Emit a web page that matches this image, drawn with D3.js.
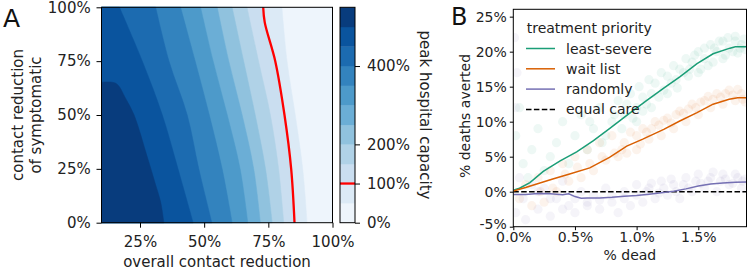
<!DOCTYPE html>
<html><head><meta charset="utf-8">
<script src="https://cdn.jsdelivr.net/npm/d3@7"></script>
<style>body{margin:0;background:#fff;} svg{display:block;font-family:"DejaVu Sans",sans-serif;}</style>
</head><body><svg id="c" width="750" height="270"></svg>
<script>
// ---------- Panel A data: contour lines [overall reduction %, symptomatic reduction %] ----------
const levels = [0,50,100,150,200,250,300,350,400,450,500,550];
const contour50  = [[80.3,100],[82.3,75],[85.5,50],[88.4,25],[90.1,0]];
const contour100 = [[73.0,100],[73.6,93],[77.7,75],[81.3,50],[83.9,25],[85.2,0]];
const contour150 = [[66.7,100],[71.2,75],[75.8,50],[79.0,25],[81.0,0]];
const contour200 = [[60.9,100],[65.4,75],[69.9,50],[73.9,25],[76.5,0]];
const contour250 = [[55.1,100],[59.6,75],[64.8,50],[69.3,25],[71.9,0]];
const contour300 = [[48.6,100],[53.5,75],[59.0,50],[64.0,25],[67.0,0]];
const contour350 = [[40.8,100],[46.5,75],[52.0,50],[57.0,25],[60.9,0]];
const contour400 = [[31.1,100],[36.3,75],[43.4,50],[47.9,25],[53.0,0]];
const contour450 = [[17.0,100],[25.9,75],[33.7,50],[39.8,25],[45.7,0]];
const contour500 = [[10,65.2],[15.6,64.7],[19.4,57.7],[22.7,50],[25.3,40.7],[27.2,33],[29.2,25.2],[31.1,17.5],[33.0,9.8],[34.3,0]];
const aXTicks = [25,50,75,100];
const aYTicks = [0,25,50,75,100];
const cbTicks = [0,100,200,400];

// ---------- Panel B data: [% dead, % deaths averted] ----------
const leastSevere = [[0,0.2],[0.05,0.5],[0.135,1.3],[0.243,2.9],[0.38,4.4],[0.514,5.7],[0.65,7.3],[0.78,9.0],[0.92,10.9],[1.08,13.0],[1.22,14.8],[1.35,16.4],[1.49,18.3],[1.62,19.7],[1.757,20.5],[1.80,20.7],[1.891,20.7]];
const waitList = [[0,0.1],[0.1,0.6],[0.19,1.1],[0.32,1.8],[0.45,2.5],[0.62,3.4],[0.78,4.9],[0.92,6.5],[1.05,7.5],[1.22,8.9],[1.35,10.1],[1.49,11.3],[1.62,12.5],[1.75,13.2],[1.82,13.4],[1.891,13.4]];
const randomly = [[0,-0.4],[0.1,-0.4],[0.2,-0.25],[0.3,-0.3],[0.4,-0.45],[0.45,-0.3],[0.5,-0.7],[0.55,-0.95],[0.6,-0.9],[0.7,-0.9],[0.8,-0.8],[0.9,-0.65],[1.0,-0.55],[1.1,-0.35],[1.2,-0.15],[1.3,0.05],[1.4,0.4],[1.5,0.8],[1.6,1.1],[1.7,1.25],[1.8,1.35],[1.891,1.4]];
const leastSeverePts = [[0.02,8],[0.05,12],[0.08,4],[0.12,2],[0.15,6],[0.2,9],[0.25,3],[0.3,5],[0.35,7],[0.4,10],[0.45,4],[0.5,8],[0.55,11],[0.6,6],[0.65,9],[0.7,12],[0.75,8],[0.8,10],[0.85,13],[0.9,11],[0.95,14],[1.0,12],[1.02,15],[1.05,13.5],[1.1,16],[1.12,14],[1.15,15.5],[1.2,17],[1.22,14.5],[1.25,16.5],[1.3,18],[1.32,16],[1.35,17.5],[1.4,19],[1.42,16.5],[1.45,18.5],[1.5,20],[1.52,17.5],[1.55,19],[1.6,21],[1.62,18.5],[1.65,20],[1.7,21.5],[1.72,19.5],[1.75,20.5],[1.8,21.5],[1.82,19.8],[1.85,21],[1.88,20.3],
  [1.0,10],[1.05,11.5],[1.08,12.5],[1.12,12],[1.18,13.5],[1.25,14],[1.28,15.5],[1.33,14.8],[1.38,17],[1.43,17.5],[1.47,19.5],[1.5,17],[1.55,20.5],[1.58,18],[1.63,20.5],[1.67,21.5],[1.7,19],[1.74,22],[1.78,20],[1.8,22.2],[1.84,20.5],[1.87,21.8],[0.88,9],[0.92,12.5],[0.97,10.5],[0.82,11],[0.72,7],[0.62,10]];
const waitListPts = [[0.05,-1],[0.1,1],[0.15,-2],[0.2,2],[0.25,-1.5],[0.3,3],[0.35,0],[0.4,4],[0.45,1.5],[0.5,5],[0.55,2],[0.6,6],[0.65,3],[0.7,7],[0.75,4.5],[0.8,8],[0.85,5],[0.9,7],[0.95,8.5],[1.0,6],[1.05,9],[1.1,7.5],[1.15,10],[1.2,8],[1.25,10.5],[1.3,9],[1.35,11.5],[1.4,10],[1.45,12.5],[1.5,11],[1.55,13],[1.6,12],[1.65,14],[1.7,12.5],[1.75,14.5],[1.8,13],[1.85,14],[1.88,12.8],
  [1.0,8],[1.03,6.8],[1.08,8.5],[1.12,9],[1.18,9.5],[1.22,10.2],[1.28,9.8],[1.32,11],[1.38,11.2],[1.42,11.8],[1.48,12],[1.52,12.8],[1.58,13.6],[1.62,13.2],[1.68,13.5],[1.72,14],[1.78,13.8],[1.82,14.6],[1.86,13.2],[0.88,6],[0.92,5.5],[0.82,5.5],[0.72,5],[0.62,4],[0.52,3.5],[0.42,2.5],[0.32,0.5],[0.22,0]];
const randomlyPts = [[0.01,22],[0.03,17],[0.02,12],[0.02,-3],[0.05,2],[0.08,-1],[0.1,-4],[0.15,1],[0.2,-2.5],[0.25,0.5],[0.3,-3.5],[0.35,-1],[0.4,1.5],[0.45,-2],[0.5,-3],[0.55,0],[0.6,-2],[0.65,-0.5],[0.7,-2.5],[0.75,0.5],[0.8,-1.5],[0.85,-3],[0.9,0],[0.95,-2],[1.0,1],[1.05,-1.5],[1.1,0.5],[1.15,-1],[1.2,1.5],[1.25,-0.5],[1.3,1],[1.35,-1],[1.4,2],[1.45,0],[1.5,2.5],[1.55,0.5],[1.6,2],[1.65,0],[1.7,2.5],[1.75,1],[1.8,2.5],[1.85,0.5],[1.88,1.8],
  [0.9,-1],[1.0,-0.5],[1.08,0],[1.12,1.2],[1.18,-0.2],[1.22,0.5],[1.28,1.8],[1.32,0],[1.38,1],[1.42,0.5],[1.48,1.5],[1.52,1.2],[1.58,1.5],[1.62,2.8],[1.68,1.5],[1.72,1.8],[1.78,1.2],[1.82,2],[1.86,1.5],[0.5,-1],[0.6,-1.5],[0.3,-1],[0.2,0],[0.4,-2.5],[0.7,-1.2],[0.8,-0.5]];
const seriesNames = ["least-severe","wait list","randomly","equal care"];
const seriesColors = ["#1b9e77","#d95f02","#7570b3","#000000"];
const bXTicks = [0,0.5,1,1.5];
const bYTicks = [-5,0,5,10,15,20,25];

// ---------- build ----------
const svg = d3.select("#c");
const FA = 15, FB = 14;
const blues = ["#f7fbff","#deebf7","#c6dbef","#9ecae1","#6baed6","#4292c6","#2171b5","#08519c","#08306b"];
const bluesI = d3.piecewise(d3.interpolateRgb, blues);
const bandColor = i => bluesI(((levels[i]+levels[i+1])/2)/levels[levels.length-1]);

// Panel A
const ax = d3.scaleLinear().domain([10,100]).range([101.5,332.5]);
const ay = d3.scaleLinear().domain([0,100]).range([222.7,7.3]);
const gA = svg.append("g");
gA.append("rect").attr("x",ax(10)).attr("y",ay(100)).attr("width",ax(100)-ax(10)).attr("height",ay(0)-ay(100)).attr("fill",bandColor(0));
const contours = [contour50,contour100,contour150,contour200,contour250,contour300,contour350,contour400,contour450,contour500];
const cline = d3.line().x(d=>ax(d[0])).y(d=>ay(d[1])).curve(d3.curveCatmullRom.alpha(0.5));
contours.forEach((c,k)=>{
  const last = c[c.length-1], first = c[0];
  const p = cline(c) + `L${ax(10)},${ay(last[1])}L${ax(10)},${ay(first[1])}Z`;
  gA.append("path").attr("d",p).attr("fill",bandColor(k+1)).attr("stroke",bandColor(k+1)).attr("stroke-width",0.5);
});
gA.append("path").attr("d",cline(contour100)).attr("fill","none").attr("stroke","#ff0000").attr("stroke-width",2.3);
gA.append("rect").attr("x",ax(10)).attr("y",ay(100)).attr("width",ax(100)-ax(10)).attr("height",ay(0)-ay(100)).attr("fill","none").attr("stroke","#000").attr("stroke-width",1);

function styleAxis(g, fs){
  g.attr("font-family",null).attr("font-size",null);
  g.selectAll("text").attr("font-size",fs).attr("fill","#222");
  g.selectAll("line").attr("stroke","#000");
  g.select(".domain").remove();
}
const axX = gA.append("g").attr("transform",`translate(0,${ay(0)})`)
  .call(d3.axisBottom(ax).tickValues(aXTicks).tickFormat(d=>d+"%").tickSize(5).tickPadding(9));
styleAxis(axX, FA);
const axY = gA.append("g").attr("transform",`translate(${ax(10)},0)`)
  .call(d3.axisLeft(ay).tickValues(aYTicks).tickFormat(d=>d+"%").tickSize(5).tickPadding(5.8));
styleAxis(axY, FA);
gA.append("text").attr("x",(ax(10)+ax(100))/2).attr("y",266.5).attr("text-anchor","middle").attr("font-size",FA).attr("fill","#222").text("overall contact reduction");
const yl = gA.append("text").attr("transform",`translate(23.3,${(ay(0)+ay(100))/2}) rotate(-90)`).attr("text-anchor","middle").attr("font-size",FA).attr("fill","#222");
yl.append("tspan").attr("x",0).attr("y",0).text("contact reduction");
yl.append("tspan").attr("x",0).attr("y",17.5).text("of symptomatic");
gA.append("text").attr("x",3).attr("y",26.5).attr("font-size",25).attr("fill","#111").text("A");

// Colorbar
const cy = d3.scaleLinear().domain([0,550]).range([222.7,7.3]);
const cbx0 = 340, cbx1 = 355;
const gC = svg.append("g");
levels.slice(0,-1).forEach((l,i)=>{
  gC.append("rect").attr("x",cbx0).attr("width",cbx1-cbx0).attr("y",cy(levels[i+1])).attr("height",cy(levels[i])-cy(levels[i+1])+0.3).attr("fill",bandColor(i));
});
gC.append("line").attr("x1",cbx0).attr("x2",cbx1).attr("y1",cy(100)).attr("y2",cy(100)).attr("stroke","#ff0000").attr("stroke-width",2.3);
gC.append("rect").attr("x",cbx0).attr("y",cy(550)).attr("width",cbx1-cbx0).attr("height",cy(0)-cy(550)).attr("fill","none").attr("stroke","#000").attr("stroke-width",1);
const axC = gC.append("g").attr("transform",`translate(${cbx1},0)`)
  .call(d3.axisRight(cy).tickValues(cbTicks).tickFormat(d=>d+"%").tickSize(5).tickPadding(7));
styleAxis(axC, FA);
gC.append("text").attr("transform",`translate(420,115) rotate(90)`).attr("text-anchor","middle").attr("font-size",FA).attr("fill","#222").text("peak hospital capacity");

// Panel B
const bx = d3.scaleLinear().domain([0,1.891]).range([513.3,746.5]);
const by = d3.scaleLinear().domain([-5,26.05]).range([226.7,9.3]);
const gB = svg.append("g");
svg.append("defs").append("clipPath").attr("id","clipB").append("rect")
  .attr("x",bx(0)).attr("y",by(26.05)).attr("width",bx(1.891)-bx(0)).attr("height",by(-5)-by(26.05));
const plotB = gB.append("g").attr("clip-path","url(#clipB)");
[[leastSeverePts,0],[waitListPts,1],[randomlyPts,2]].forEach(([pts,i])=>{
  plotB.append("g").selectAll("circle").data(pts).join("circle")
    .attr("cx",d=>bx(d[0])).attr("cy",d=>by(d[1])).attr("r",4.6)
    .attr("fill",seriesColors[i]).attr("fill-opacity",0.075);
});
const bline = d3.line().x(d=>bx(d[0])).y(d=>by(d[1]));
plotB.append("line").attr("x1",bx(0)).attr("x2",bx(1.891)).attr("y1",by(0)).attr("y2",by(0))
  .attr("stroke","#000").attr("stroke-width",1.5).attr("stroke-dasharray","5.5,2.4");
[[leastSevere,0],[waitList,1],[randomly,2]].forEach(([d,i])=>{
  plotB.append("path").attr("d",bline(d)).attr("fill","none").attr("stroke",seriesColors[i]).attr("stroke-width",1.5);
});
gB.append("rect").attr("x",bx(0)).attr("y",by(26.05)).attr("width",bx(1.891)-bx(0)).attr("height",by(-5)-by(26.05)).attr("fill","none").attr("stroke","#000").attr("stroke-width",1);
const bxAx = gB.append("g").attr("transform",`translate(0,${by(-5)})`)
  .call(d3.axisBottom(bx).tickValues(bXTicks).tickFormat(d=>d.toFixed(1)+"%").tickSize(3.5).tickPadding(2.2));
styleAxis(bxAx, FB);
const byAx = gB.append("g").attr("transform",`translate(${bx(0)},0)`)
  .call(d3.axisLeft(by).tickValues(bYTicks).tickFormat(d=>d+"%").tickSize(3.5).tickPadding(3));
styleAxis(byAx, FB);
byAx.selectAll("text").filter(d=>d===-5).attr("dy","0.1em");
gB.append("text").attr("x",(bx(0)+bx(1.891))/2).attr("y",260).attr("text-anchor","middle").attr("font-size",FB).attr("fill","#222").text("% dead");
gB.append("text").attr("transform",`translate(470,116) rotate(-90)`).attr("text-anchor","middle").attr("font-size",FB).attr("fill","#222").text("% deaths averted");
gB.append("text").attr("x",451).attr("y",25).attr("font-size",24).attr("fill","#111").text("B");

// Legend
const lg = gB.append("g");
lg.append("text").attr("x",526.7).attr("y",33).attr("font-size",FB).attr("fill","#222").text("treatment priority");
seriesNames.forEach((n,i)=>{
  const yy = 48.5 + i*20.3;
  lg.append("line").attr("x1",526).attr("x2",555).attr("y1",yy).attr("y2",yy)
    .attr("stroke",seriesColors[i]).attr("stroke-width",1.5)
    .attr("stroke-dasharray", i===3 ? "5.5,2.4" : null);
  lg.append("text").attr("x",566).attr("y",yy+5).attr("font-size",FB).attr("fill","#222").text(n);
});
</script>
</body></html>
